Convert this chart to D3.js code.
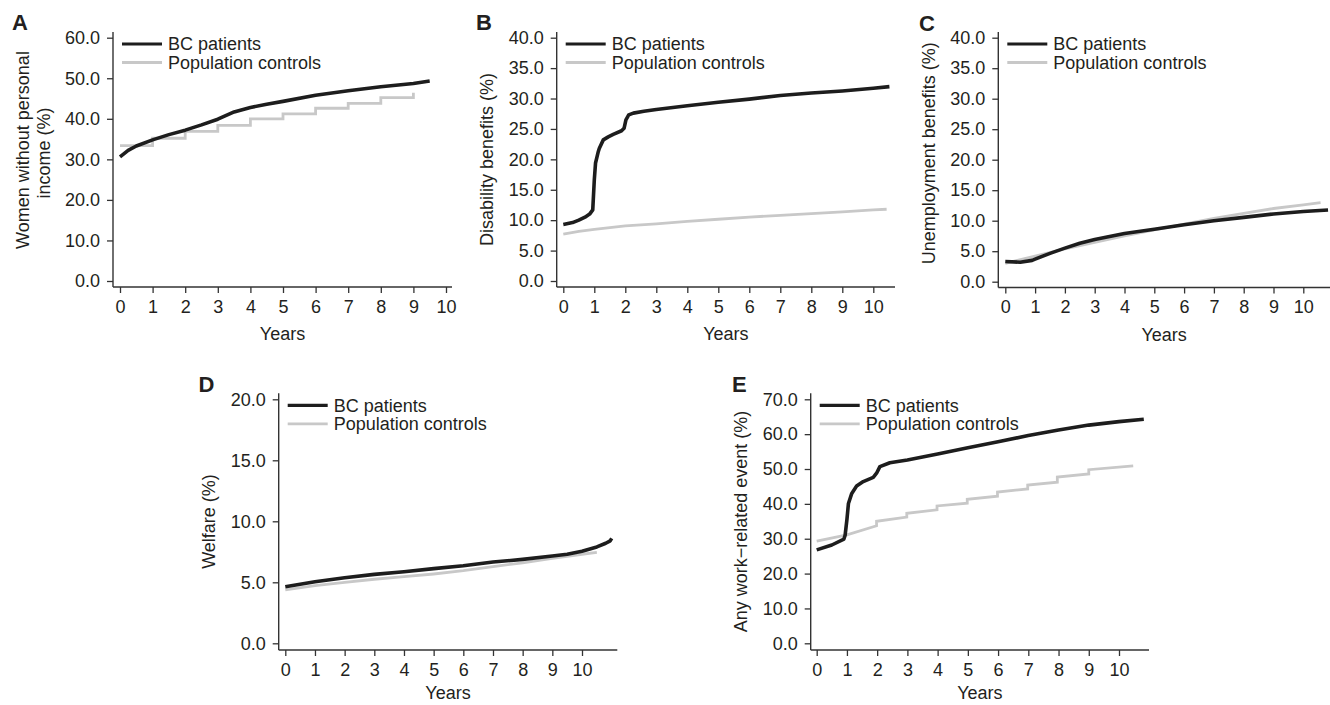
<!DOCTYPE html>
<html>
<head>
<meta charset="utf-8">
<script src="https://cdn.jsdelivr.net/npm/d3@7"></script>
<style>
body { margin: 0; background: #fff; }
svg text { font-family: "Liberation Sans", Arial, Helvetica, sans-serif; fill: #231f20; }
</style>
</head>
<body>
<svg id="myGraph" width="1330" height="705"></svg>
<script>
// tick labels
var yearTicks = [0, 1, 2, 3, 4, 5, 6, 7, 8, 9, 10];
var ticksA = [0, 10, 20, 30, 40, 50, 60];
var ticksB = [0, 5, 10, 15, 20, 25, 30, 35, 40];
var ticksC = [0, 5, 10, 15, 20, 25, 30, 35, 40];
var ticksD = [0, 5, 10, 15, 20];
var ticksE = [0, 10, 20, 30, 40, 50, 60, 70];
var seriesNames = ["BC patients", "Population controls"];

// A: women without personal income
var aBcYears = [0, 0.25, 0.5, 1, 1.5, 2, 2.5, 3, 3.5, 4, 4.5, 5, 6, 7, 8, 9, 9.5];
var aBcPct   = [30.6, 32.2, 33.3, 34.8, 36.1, 37.2, 38.5, 39.9, 41.7, 42.8, 43.6, 44.3, 45.8, 46.9, 47.9, 48.7, 49.3];
var aPopYears = [0, 1, 2, 3, 4, 5, 6, 7, 8, 9];
var aPopPct   = [33.4, 35.2, 36.9, 38.4, 40.0, 41.2, 42.6, 43.8, 45.2, 46.4];

// B: disability benefits
var bBcYears = [0, 0.3, 0.5, 0.7, 0.85, 0.95, 1.0, 1.04, 1.13, 1.16, 1.29, 1.45, 1.61, 1.88, 1.96, 2.02, 2.11, 2.26, 2.6, 3, 4, 5, 6, 7, 8, 9, 10, 10.52];
var bBcPct   = [9.3, 9.6, 10.0, 10.5, 11.0, 11.7, 16.6, 19.4, 21.3, 21.8, 23.2, 23.7, 24.1, 24.7, 25.1, 26.5, 27.3, 27.6, 27.9, 28.2, 28.8, 29.4, 29.9, 30.5, 30.9, 31.25, 31.7, 31.95];
var bPopYears = [0, 0.5, 1, 2, 3, 4, 5, 6, 7, 8, 9, 10, 10.43];
var bPopPct   = [7.7, 8.15, 8.5, 9.05, 9.4, 9.8, 10.15, 10.5, 10.8, 11.07, 11.35, 11.7, 11.8];

// C: unemployment benefits
var cBcYears = [0, 0.5, 0.9, 1.0, 1.5, 2, 2.5, 3, 4, 5, 6, 7, 8, 9, 10, 10.83];
var cBcPct   = [3.3, 3.2, 3.5, 3.7, 4.65, 5.5, 6.3, 6.9, 7.9, 8.6, 9.35, 10.0, 10.55, 11.1, 11.5, 11.75];
var cPopYears = [0, 1, 2, 3, 4, 5, 6, 7, 8, 9, 10, 10.58];
var cPopPct   = [3.0, 4.2, 5.4, 6.45, 7.5, 8.5, 9.45, 10.4, 11.2, 12.0, 12.6, 12.95];

// D: welfare
var dBcYears = [0, 1, 2, 3, 4, 5, 6, 7, 8, 9, 9.5, 10, 10.5, 10.8, 10.95, 11.0];
var dBcPct   = [4.64, 5.05, 5.38, 5.65, 5.87, 6.12, 6.36, 6.66, 6.88, 7.15, 7.3, 7.55, 7.9, 8.2, 8.4, 8.6];
var dPopYears = [0, 1, 2, 3, 4, 5, 6, 7, 8, 9, 10, 10.5];
var dPopPct   = [4.37, 4.72, 5.0, 5.25, 5.46, 5.68, 5.95, 6.28, 6.6, 6.96, 7.3, 7.45];

// E: any work-related event
var eBcYears = [0, 0.5, 0.9, 0.94, 1.0, 1.05, 1.16, 1.32, 1.54, 1.87, 1.98, 2.09, 2.42, 3, 4, 5, 6, 7, 8, 9, 10, 10.82];
var eBcPct   = [26.8, 28.2, 29.9, 31.0, 35.5, 40.1, 43.0, 45.1, 46.4, 47.6, 48.8, 50.7, 51.8, 52.6, 54.3, 56.1, 57.8, 59.6, 61.2, 62.6, 63.6, 64.3];
var ePopYears = [0, 1.0, 1.98, 1.98, 2.98, 2.98, 3.98, 3.98, 4.98, 4.98, 5.98, 5.98, 6.98, 6.98, 7.96, 7.96, 9.0, 9.0, 10.47];
var ePopPct   = [29.3, 31.1, 33.7, 35.0, 36.2, 37.3, 38.3, 39.4, 40.2, 41.3, 42.2, 43.4, 44.3, 45.4, 46.2, 47.7, 48.6, 49.8, 50.9];

var bcColor = "#1d1d1d";
var popColor = "#c8c8c8";
var axisColor = "#333";

function zip(xs, ys) {
    return xs.map(function(d, i){ return [d, ys[i]]; });
}

// 各パネルの配置
var panels = [
    {letter: "A", lx: 12, ly: 30, x0: 120, x10: 446, y0: 281, yTop: 37.7, yMax: 60, ticks: ticksA,
     left: 113, right: 452, top: 32, bottom: 287, yearsDy: 53,
     titles: [{t: "Women without personal", x: 28.5, cy: 150}, {t: "income (%)", x: 50, cy: 153}],
     bc: zip(aBcYears, aBcPct), pop: zip(aPopYears, aPopPct), popStep: true},
    {letter: "B", lx: 476, ly: 30, x0: 563.3, x10: 873.3, y0: 281, yTop: 37.7, yMax: 40, ticks: ticksB,
     left: 556.7, right: 895, top: 32, bottom: 287, yearsDy: 53,
     titles: [{t: "Disability benefits (%)", x: 492.7, cy: 159.5}],
     bc: zip(bBcYears, bBcPct), pop: zip(bPopYears, bPopPct)},
    {letter: "C", lx: 919, ly: 30.5, x0: 1005.3, x10: 1303.3, y0: 281.7, yTop: 37.7, yMax: 40, ticks: ticksC,
     left: 998.3, right: 1330, top: 32, bottom: 287.5, yearsDy: 53,
     titles: [{t: "Unemployment benefits (%)", x: 935, cy: 153.3}],
     bc: zip(cBcYears, cBcPct), pop: zip(cPopYears, cPopPct)},
    {letter: "D", lx: 198.5, ly: 391.7, x0: 285.3, x10: 582, y0: 643.3, yTop: 399.3, yMax: 20, ticks: ticksD,
     left: 278.7, right: 617.3, top: 393.3, bottom: 650, yearsDy: 49,
     titles: [{t: "Welfare (%)", x: 215, cy: 521.5}],
     bc: zip(dBcYears, dBcPct), pop: zip(dPopYears, dPopPct)},
    {letter: "E", lx: 732, ly: 391.7, x0: 816.7, x10: 1119, y0: 643.3, yTop: 399.3, yMax: 70, ticks: ticksE,
     left: 810.7, right: 1149, top: 393.3, bottom: 650, yearsDy: 49,
     titles: [{t: "Any work\u2212related event (%)", x: 747.3, cy: 521.5}],
     bc: zip(eBcYears, eBcPct), pop: zip(ePopYears, ePopPct)}
];

var svg = d3.select("#myGraph");

panels.forEach(function(p){
    var g = svg.append("g");
    var x = d3.scaleLinear().domain([0, 10]).range([p.x0, p.x10]);
    var y = d3.scaleLinear().domain([0, p.yMax]).range([p.y0, p.yTop]);

    // 軸線 (L字型)
    g.append("line").attr("x1", p.left).attr("x2", p.left).attr("y1", p.top).attr("y2", p.bottom)
        .attr("stroke", axisColor).attr("stroke-width", 1.4);
    g.append("line").attr("x1", p.left).attr("x2", p.right).attr("y1", p.bottom).attr("y2", p.bottom)
        .attr("stroke", axisColor).attr("stroke-width", 1.4);

    var yAxis = g.append("g")
        .attr("transform", "translate(" + p.left + ",0)")
        .call(d3.axisLeft(y).tickValues(p.ticks).tickSize(6).tickPadding(7).tickFormat(d3.format(".1f")));
    var xAxis = g.append("g")
        .attr("transform", "translate(0," + p.bottom + ")")
        .call(d3.axisBottom(x).tickValues(yearTicks).tickSize(6).tickPadding(7).tickFormat(d3.format("d")));
    [yAxis, xAxis].forEach(function(a){
        a.select(".domain").remove();
        a.selectAll("line").attr("stroke", axisColor).attr("stroke-width", 1.3);
        a.selectAll("text").attr("font-size", 18).attr("fill", "#231f20")
            .style("font-family", "'Liberation Sans', Arial, sans-serif");
    });

    // パネル文字
    g.append("text").attr("x", p.lx).attr("y", p.ly)
        .attr("font-size", 22).attr("font-weight", "bold").text(p.letter);

    // 軸タイトル
    g.append("text").attr("x", (p.left + p.right) / 2).attr("y", p.bottom + p.yearsDy)
        .attr("text-anchor", "middle").attr("font-size", 18).text("Years");
    p.titles.forEach(function(t){
        g.append("text")
            .attr("transform", "translate(" + t.x + "," + t.cy + ") rotate(-90)")
            .attr("text-anchor", "middle").attr("font-size", 18).text(t.t);
    });

    // 系列
    var line = d3.line().x(function(d){ return x(d[0]); }).y(function(d){ return y(d[1]); });
    var popLine = d3.line().x(function(d){ return x(d[0]); }).y(function(d){ return y(d[1]); })
        .curve(p.popStep ? d3.curveStepAfter : d3.curveLinear);

    g.append("path").datum(p.pop).attr("d", popLine)
        .attr("fill", "none").attr("stroke", popColor).attr("stroke-width", 2.8);
    g.append("path").datum(p.bc).attr("d", line)
        .attr("fill", "none").attr("stroke", bcColor).attr("stroke-width", 3.6)
        .attr("stroke-linejoin", "round");

    // 凡例
    var legend = g.append("g").attr("transform", "translate(" + p.left + "," + p.top + ")");
    var colors = [bcColor, popColor];
    var widths = [3.2, 2.8];
    seriesNames.forEach(function(name, i){
        var ly = 12 + i * 18.5;
        legend.append("line").attr("x1", 9).attr("x2", 49).attr("y1", ly).attr("y2", ly)
            .attr("stroke", colors[i]).attr("stroke-width", widths[i]);
        legend.append("text").attr("x", 55).attr("y", ly).attr("dy", "0.35em")
            .attr("font-size", 18).text(name);
    });
});
</script>
</body>
</html>
